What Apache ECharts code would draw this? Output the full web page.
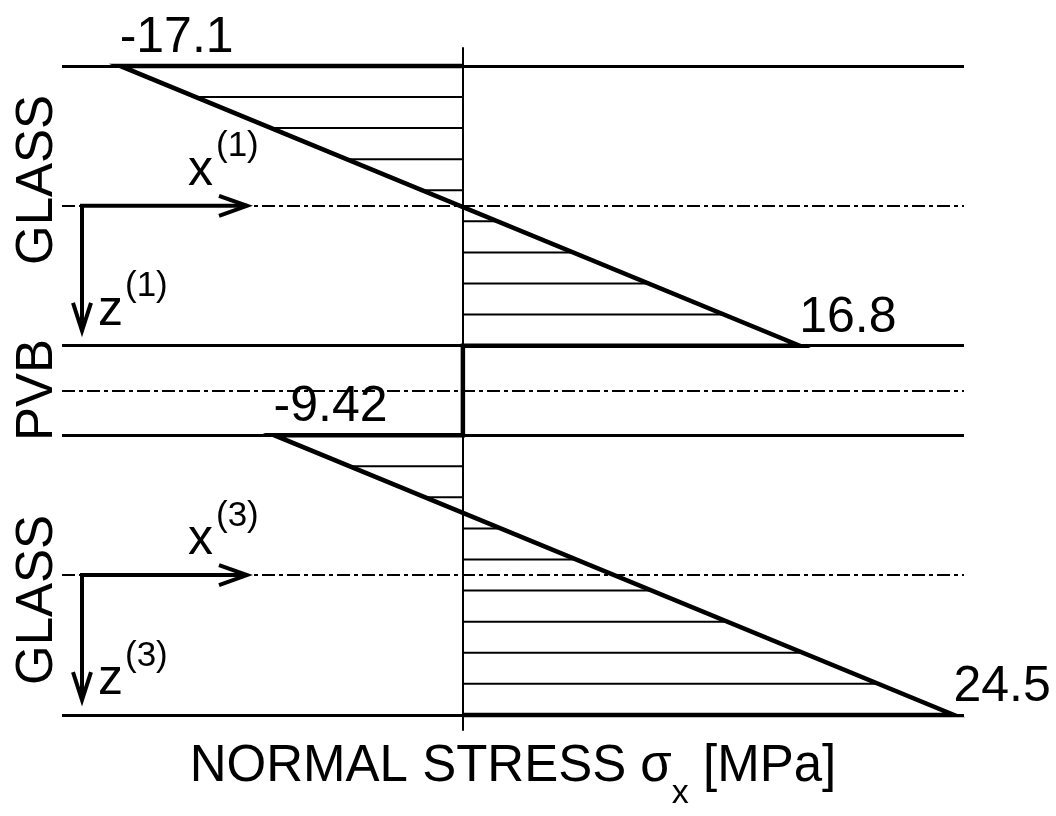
<!DOCTYPE html>
<html>
<head>
<meta charset="utf-8">
<script src="https://cdn.jsdelivr.net/npm/echarts@6/dist/echarts.min.js"></script>
<style>
  html, body { margin: 0; padding: 0; background: #fff; }
  #main { width: 1056px; height: 816px; }
</style>
</head>
<body>
<div id="main"></div>
<script>
// layers through the thickness (z grows downward)
const layerNames = ['GLASS', 'PVB', 'GLASS'];
const layerTop = [0, 10, 13.2];
const layerBottom = [10, 13.2, 23.2];
// normal stress at top / bottom face of each layer [MPa]
const stressTop = [-17.1, 0, -9.42];
const stressBottom = [16.8, 0, 24.5];

const FONT = '"Liberation Sans", Arial, sans-serif';

// outline of stress profile
const profile = [];
const peaks = [];
const hatch = [];
const glassIdx = [];
for (let i = 0; i < layerNames.length; i++) {
    profile.push([0, layerTop[i]], [stressTop[i], layerTop[i]],
                 [stressBottom[i], layerBottom[i]], [0, layerBottom[i]]);
    if (stressTop[i] !== 0 || stressBottom[i] !== 0) {
        peaks.push([stressTop[i], layerTop[i]], [stressBottom[i], layerBottom[i]]);
        hatch.push([layerTop[i], layerBottom[i], stressTop[i], stressBottom[i]]);
        glassIdx.push(i);
    }
}
const bounds = layerTop.concat([layerBottom[layerBottom.length - 1]]);
const mids = layerTop.map((t, i) => (t + layerBottom[i]) / 2);

const chart = echarts.init(document.getElementById('main'));
chart.setOption({
    animation: false,
    backgroundColor: '#fff',
    grid: { left: 62, right: 92, top: 48, bottom: 83 },
    xAxis: {
        type: 'value', min: -20, max: 25,
        axisLine: { show: false }, axisTick: { show: false },
        axisLabel: { show: false }, splitLine: { show: false },
        name: '{t|NORMAL STRESS σ}{s|x}{t| [MPa]}',
        nameLocation: 'middle',
        nameGap: -7,
        nameTextStyle: {
            rich: {
                t: { fontSize: 51, fontFamily: FONT, color: '#000' },
                s: { fontSize: 34, fontFamily: FONT, color: '#000', padding: [54, 0, 0, 0] }
            }
        }
    },
    yAxis: {
        type: 'value', inverse: true, min: -0.64, max: 23.74,
        axisLine: { show: true, onZero: true, lineStyle: { color: '#000', width: 2 } },
        axisTick: { show: false }, axisLabel: { show: false }, splitLine: { show: false }
    },
    series: [
        {
            // layer interfaces and mid-planes
            type: 'line', data: [], silent: true, z: 1,
            markLine: {
                silent: true, symbol: ['none', 'none'], label: { show: false },
                data: bounds.map(z => ({ yAxis: z, lineStyle: { color: '#000', width: 3, type: 'solid' } }))
                    .concat(mids.map(z => ({ yAxis: z, lineStyle: { color: '#000', width: 2, type: [13, 4, 4, 4] } })))
            }
        },
        {
            // hatching between axis and stress line
            type: 'custom', silent: true, z: 2,
            encode: { x: [2, 3], y: [0, 1] },
            data: hatch,
            renderItem: function (params, api) {
                const zt = api.value(0), zb = api.value(1), st = api.value(2), sb = api.value(3);
                const children = [];
                for (let k = 1; k < 9; k++) {
                    const f = k / 9;
                    const z = zt + f * (zb - zt), s = st + f * (sb - st);
                    const p0 = api.coord([0, z]), p1 = api.coord([s, z]);
                    children.push({
                        type: 'line',
                        shape: { x1: p0[0], y1: p0[1], x2: p1[0], y2: p1[1] },
                        style: { stroke: '#000', lineWidth: 2 }
                    });
                }
                return { type: 'group', children: children };
            }
        },
        {
            type: 'line', data: profile, z: 3, silent: true,
            symbol: 'none',
            lineStyle: { color: '#000', width: 4.5, join: 'miter' }
        },
        {
            type: 'scatter', data: peaks, z: 4, silent: true,
            symbolSize: 1, itemStyle: { color: '#000', opacity: 1 },
            label: {
                show: true, position: [0, 0], align: 'left', verticalAlign: 'bottom',
                offset: [0, -2],
                formatter: p => '{v|' + p.value[0] + '}',
                rich: { v: { fontSize: 50, fontFamily: FONT, color: '#000', opacity: 1 } }
            }
        }
    ]
});

// local coordinate arrows and layer names
const graphic = [];
const nameY = [180, 390, 600];
layerNames.forEach((n, i) => {
    graphic.push({
        type: 'text', x: 37.5, y: nameY[i], rotation: Math.PI / 2,
        style: { text: n, x: 0, y: 0, align: 'center', verticalAlign: 'middle',
                 fontSize: 51, fontFamily: FONT, fill: '#000' }
    });
});
glassIdx.forEach(i => {
    const y = chart.convertToPixel({ gridIndex: 0 }, [0, mids[i]])[1];
    const x0 = 82, xe = 247, ye = y + 125;
    const st = { stroke: '#000', lineWidth: 4, fill: null, lineJoin: 'miter' };
    graphic.push(
        { type: 'polyline', shape: { points: [[xe, y], [x0, y], [x0, ye]] }, style: st },
        { type: 'polyline', shape: { points: [[xe - 28, y - 10], [xe, y], [xe - 28, y + 10]] }, style: st },
        { type: 'polyline', shape: { points: [[x0 - 9, ye - 28], [x0, ye], [x0 + 9, ye - 28]] }, style: st },
        { type: 'text', style: { text: 'x', x: 188, y: y - 35, align: 'left', verticalAlign: 'middle', fontSize: 50, fontFamily: FONT, fill: '#000' } },
        { type: 'text', style: { text: '(' + (i + 1) + ')', x: 216, y: y - 59, align: 'left', verticalAlign: 'middle', fontSize: 35, fontFamily: FONT, fill: '#000' } },
        { type: 'text', style: { text: 'z', x: 98, y: y + 105, align: 'left', verticalAlign: 'middle', fontSize: 50, fontFamily: FONT, fill: '#000' } },
        { type: 'text', style: { text: '(' + (i + 1) + ')', x: 125, y: y + 81, align: 'left', verticalAlign: 'middle', fontSize: 35, fontFamily: FONT, fill: '#000' } }
    );
});
chart.setOption({ graphic: graphic });
</script>
</body>
</html>
